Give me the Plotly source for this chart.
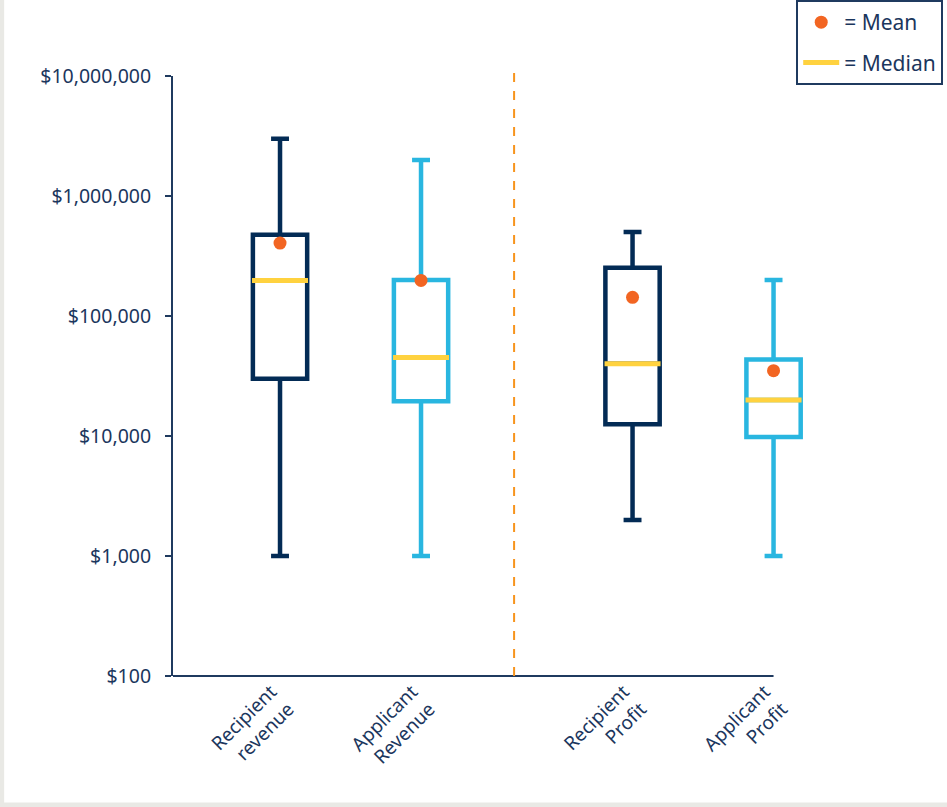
import plotly.graph_objects as go

# ---- data ----
categories = ["Recipient<br>revenue", "Applicant<br>Revenue", "Recipient<br>Profit", "Applicant<br>Profit"]
x_positions = [1, 2, 3.5, 4.5]
lower_whisker = [1000, 1000, 2000, 1000]
q1_values = [30000, 19500, 12500, 9800]
median_values = [198000, 45000, 40000, 20000]
q3_values = [475000, 200000, 252000, 43500]
upper_whisker = [3000000, 2000000, 500000, 200000]
mean_values = [405000, 198000, 143000, 35000]
box_colors = ["#032B55", "#29B6E0", "#032B55", "#29B6E0"]
ytick_vals = [100, 1000, 10000, 100000, 1000000, 10000000]
ytick_text = ["$100", "$1,000", "$10,000", "$100,000", "$1,000,000", "$10,000,000"]

TEXT = "#1B365D"
FONT = "Noto Sans"
YELLOW = "#FFD23F"
ORANGE = "#F26522"

fig = go.Figure()

for i in range(len(categories)):
    fig.add_trace(go.Box(
        x=[x_positions[i]],
        q1=[q1_values[i]], median=[median_values[i]], q3=[q3_values[i]],
        lowerfence=[lower_whisker[i]], upperfence=[upper_whisker[i]],
        width=0.385, whiskerwidth=0.33,
        line=dict(color=box_colors[i], width=4.5),
        fillcolor="white",
        boxpoints=False,
        showlegend=False, hoverinfo="skip",
    ))

fig.add_trace(go.Scatter(
    x=x_positions, y=median_values, mode="markers",
    marker=dict(symbol="line-ew", size=40, color=YELLOW,
                line=dict(color=YELLOW, width=5)),
    showlegend=False, hoverinfo="skip",
))
fig.add_trace(go.Scatter(
    x=x_positions, y=mean_values, mode="markers",
    marker=dict(symbol="circle", size=13, color=ORANGE),
    showlegend=False, hoverinfo="skip",
))
# legend entries
fig.add_trace(go.Scatter(
    x=[None], y=[None], mode="markers", name="= Mean",
    marker=dict(symbol="circle", size=13, color=ORANGE),
    legendgroup="a", showlegend=True,
))
fig.add_trace(go.Scatter(
    x=[None], y=[None], mode="lines", name="= Median",
    line=dict(color=YELLOW, width=5),
    legendgroup="b", showlegend=True,
))

x_start = 0.241
fig.update_layout(
    width=947, height=807,
    margin=dict(l=173, r=132, t=76, b=131, autoexpand=False),
    paper_bgcolor="white", plot_bgcolor="white",
    font=dict(family=FONT, size=19.5, color=TEXT),
    xaxis=dict(
        range=[x_start, 4.794], tickmode="array", tickvals=x_positions,
        ticktext=categories, tickangle=-45, showline=False, showgrid=False,
        zeroline=False, ticks="", tickfont=dict(size=19, color=TEXT),
        automargin=False, ticklabelshift=-9,
    ),
    yaxis=dict(
        type="log", range=[2, 7], tickmode="array", tickvals=ytick_vals,
        ticktext=ytick_text, showline=True, linecolor="#1F3A5F", linewidth=2,
        ticks="outside", ticklen=6, tickwidth=2, tickcolor="#1F3A5F",
        showgrid=False, zeroline=False, ticklabelstandoff=10,
        tickfont=dict(size=19.5, color=TEXT), automargin=False,
    ),
    legend=dict(
        xref="container", yref="container",
        x=0.996, xanchor="right", y=1.006, yanchor="top",
        bordercolor="#1F3A5F", borderwidth=2, bgcolor="white",
        font=dict(size=21, color=TEXT), traceorder="grouped",
        tracegroupgap=10, itemwidth=36,
    ),
    shapes=[
        dict(type="line", xref="x", yref="paper", x0=x_start, x1=4.5, y0=0, y1=0,
             line=dict(color="#1F3A5F", width=2)),
        dict(type="line", xref="x", yref="paper", x0=2.66, x1=2.66, y0=0, y1=1.015,
             line=dict(color="#F7941D", width=2, dash="dash")),
        dict(type="rect", xref="paper", yref="paper", x0=-0.28, x1=-0.263, y0=-0.3, y1=1.2,
             fillcolor="#E9E9E5", line=dict(width=0), layer="below"),
        dict(type="rect", xref="paper", yref="paper", x0=-0.28, x1=1.3, y0=-0.22, y1=-0.2108,
             fillcolor="#E9E9E5", line=dict(width=0), layer="below"),
    ],
)

fig.write_html("out.html")
